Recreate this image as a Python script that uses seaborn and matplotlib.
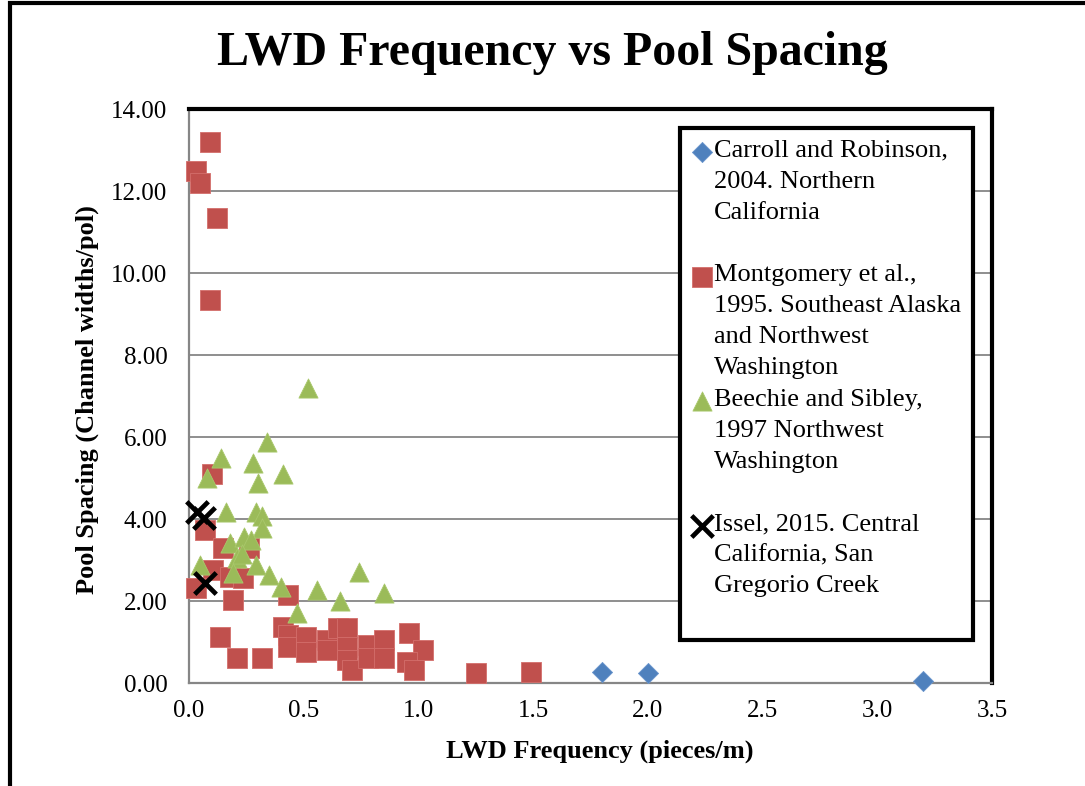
import seaborn as sns
import matplotlib.pyplot as plt
import matplotlib.patches as mpatches
import pandas as pd
import numpy as np

# Values
carroll_x = [1.80, 2.00, 3.20]
carroll_y = [0.27, 0.25, 0.05]

montgomery_x = [0.09, 0.03, 0.05, 0.12, 0.09, 0.10, 0.07, 0.15, 0.26, 0.105,
                0.18, 0.235, 0.03, 0.19, 0.43, 0.135, 0.21, 0.32, 0.41, 0.43,
                0.43, 0.51, 0.51, 0.60, 0.60, 0.65, 0.69, 0.69, 0.69, 0.71,
                0.78, 0.78, 0.85, 0.85, 0.96, 1.02, 0.95, 0.98, 1.25, 1.49]
montgomery_y = [13.2, 12.5, 12.2, 11.35, 9.35, 5.1, 3.73, 3.29, 3.3, 2.76,
                2.58, 2.56, 2.32, 2.02, 2.15, 1.12, 0.6, 0.62, 1.37, 1.17,
                0.88, 1.12, 0.76, 1.05, 0.8, 1.34, 1.34, 0.88, 0.56, 0.32,
                0.93, 0.6, 1.05, 0.6, 1.22, 0.8, 0.51, 0.32, 0.24, 0.27]

beechie_x = [0.52, 0.34, 0.14, 0.28, 0.41, 0.08, 0.30, 0.16, 0.29, 0.32,
             0.32, 0.18, 0.24, 0.27, 0.21, 0.29, 0.19, 0.05, 0.35, 0.40,
             0.47, 0.74, 0.56, 0.66, 0.85, 0.23]
beechie_y = [7.2, 5.88, 5.49, 5.37, 5.1, 5.0, 4.88, 4.17, 4.17, 4.07,
             3.78, 3.41, 3.56, 3.49, 3.05, 2.88, 2.68, 2.88, 2.63, 2.34,
             1.7, 2.71, 2.27, 2.0, 2.2, 3.15]

issel_x = [0.035, 0.065, 0.07]
issel_y = [4.17, 4.02, 2.44]

labels = [
    "Carroll and Robinson,\n2004. Northern\nCalifornia\n ",
    "Montgomery et al.,\n1995. Southeast Alaska\nand Northwest\nWashington",
    "Beechie and Sibley,\n1997 Northwest\nWashington\n ",
    "Issel, 2015. Central\nCalifornia, San\nGregorio Creek\n ",
]

df_c = pd.DataFrame({"x": carroll_x, "y": carroll_y})
df_m = pd.DataFrame({"x": montgomery_x, "y": montgomery_y})
df_b = pd.DataFrame({"x": beechie_x, "y": beechie_y})
df_i = pd.DataFrame({"x": issel_x, "y": issel_y})

sns.set_style("white")
plt.rcParams['font.family'] = ['Liberation Serif', 'DejaVu Serif']
plt.rcParams['text.color'] = 'black'
plt.rcParams['axes.labelcolor'] = 'black'

fig = plt.figure(figsize=(10.85, 7.86), dpi=100)
ax = fig.add_axes([0.1742, 0.1310, 0.7401, 0.7303])

sns.scatterplot(data=df_c, x="x", y="y", marker="D", s=105, color="#4F81BD",
                edgecolor="#6A95CC", linewidth=0.6, label=labels[0],
                clip_on=False, zorder=5, ax=ax)
sns.scatterplot(data=df_m, x="x", y="y", marker="s", s=200, color="#C0504D",
                edgecolor="#D46E6B", linewidth=0.6, label=labels[1],
                clip_on=False, zorder=6, ax=ax)
sns.scatterplot(data=df_b, x="x", y="y", marker="^", s=190, color="#9BBB59",
                edgecolor="#A9C86C", linewidth=0.6, label=labels[2],
                clip_on=False, zorder=7, ax=ax)
sns.scatterplot(data=df_i, x="x", y="y", marker="x", s=240, color="black",
                linewidth=3.4, label=labels[3],
                clip_on=False, zorder=8, ax=ax)

ax.set_xlim(0, 3.5)
ax.set_ylim(0, 14)
ax.set_xticks(np.arange(0, 3.51, 0.5))
ax.set_yticks(np.arange(0, 14.01, 2))
ax.set_xticklabels([f"{v:.1f}" for v in np.arange(0, 3.51, 0.5)])
ax.set_yticklabels([f"{v:.2f}" for v in np.arange(0, 14.01, 2)])

ax.yaxis.grid(True, color="#868686", linewidth=1.3)
ax.xaxis.grid(False)
ax.set_axisbelow(True)

for side in ["left", "bottom"]:
    ax.spines[side].set_color("#868686")
    ax.spines[side].set_linewidth(1.6)
for side in ["top", "right"]:
    ax.spines[side].set_color("black")
    ax.spines[side].set_linewidth(3)

ax.tick_params(axis="both", direction="out", length=4.5, width=1.4,
               color="#868686", labelsize=18, labelcolor="black")
ax.tick_params(axis="y", pad=11)
ax.tick_params(axis="x", pad=8)

ax.set_xlabel("LWD Frequency (pieces/m)", fontsize=19, fontweight="bold")
ax.set_ylabel("Pool Spacing (Channel widths/pol)", fontsize=19, fontweight="bold")
ax.xaxis.set_label_coords(0.511, -0.098)
ax.yaxis.set_label_coords(-0.112, 0.493)

fig.text(552 / 1085, 1 - 53 / 786, "LWD Frequency vs Pool Spacing",
         ha="center", va="center", fontsize=34.5, fontweight="bold")

leg = ax.legend(loc="upper left", bbox_to_anchor=(0.611, 0.967),
                borderaxespad=0, borderpad=0.45, handlelength=0.8,
                handleheight=1.1, handletextpad=0.06, labelspacing=0.38,
                fontsize=19, frameon=True, fancybox=False, framealpha=1,
                edgecolor="black")
leg.get_frame().set_linewidth(3)
for t in leg.get_texts():
    t.set_linespacing(1.52)
for col in leg._legend_handle_box.get_children():
    for row in col.get_children():
        row.align = "top"

# outer frame of the chart area
fig.add_artist(mpatches.Rectangle((0.0095, -0.05), 1.2, 1.0465,
                                  transform=fig.transFigure, fill=False,
                                  edgecolor="black", linewidth=3))

fig.savefig("out.png", dpi=100)
